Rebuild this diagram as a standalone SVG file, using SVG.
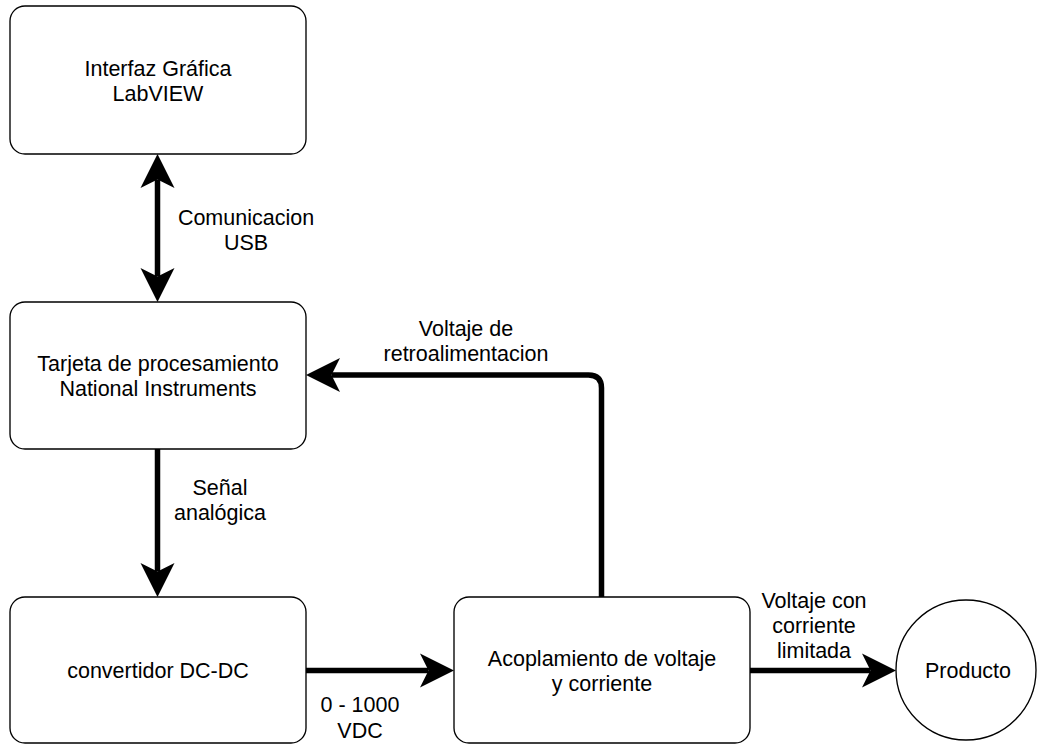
<svg xmlns="http://www.w3.org/2000/svg" width="1037" height="744" viewBox="0 0 1037 744">
<style>
.node{fill:#fff;stroke:#000;stroke-width:1.35}
.t{font-family:"Liberation Sans",Arial,sans-serif;font-size:21.5px;fill:#000;text-anchor:middle}
.c{fill:none;stroke:#000;stroke-width:5.5}
</style>
<defs>
<marker id="ah" markerUnits="userSpaceOnUse" viewBox="-9 -18 36 36" markerWidth="36" markerHeight="36" refX="0" refY="0" orient="auto-start-reverse">
<path d="M-8.5,-17 L25.5,0 L-8.5,17 L0,0 Z" fill="#000"/>
</marker>
</defs>
<rect width="1037" height="744" fill="#fff"/>
<g id="connectors">
<path class="c" d="M157.5,179.5 L157.5,276.5" marker-start="url(#ah)" marker-end="url(#ah)"/>
<path class="c" d="M157.5,449 L157.5,571.5" marker-end="url(#ah)"/>
<path class="c" d="M306,670.5 L428.5,670.5" marker-end="url(#ah)"/>
<path class="c" d="M750,670.5 L870.5,670.5" marker-end="url(#ah)"/>
<path class="c" d="M601.5,597 L601.5,388 Q601.5,375 588.5,375 L331.5,375" marker-end="url(#ah)"/>
<text class="t"><tspan x="246" y="225">Comunicacion</tspan><tspan x="246" y="250">USB</tspan></text>
<text class="t"><tspan x="220" y="495">Señal</tspan><tspan x="220" y="520">analógica</tspan></text>
<text class="t"><tspan x="466" y="336">Voltaje de</tspan><tspan x="466" y="361">retroalimentacion</tspan></text>
<text class="t"><tspan x="360" y="712">0 - 1000</tspan><tspan x="360" y="738">VDC</tspan></text>
<text class="t"><tspan x="814" y="608">Voltaje con</tspan><tspan x="814" y="633">corriente</tspan><tspan x="814" y="658">limitada</tspan></text>
</g>
<g id="n1">
<rect class="node" x="10" y="6" width="296" height="148" rx="15"/>
<text class="t"><tspan x="158" y="76">Interfaz Gráfica</tspan><tspan x="158" y="101">LabVIEW</tspan></text>
</g>
<g id="n2">
<rect class="node" x="10" y="302" width="296" height="147" rx="15"/>
<text class="t"><tspan x="158" y="371">Tarjeta de procesamiento</tspan><tspan x="158" y="396">National Instruments</tspan></text>
</g>
<g id="n3">
<rect class="node" x="10" y="597" width="296" height="146" rx="15"/>
<text class="t" x="158" y="678">convertidor DC-DC</text>
</g>
<g id="n4">
<rect class="node" x="454" y="597" width="296" height="146" rx="15"/>
<text class="t"><tspan x="602" y="666">Acoplamiento de voltaje</tspan><tspan x="602" y="691">y corriente</tspan></text>
</g>
<g id="n5">
<circle class="node" cx="966" cy="670" r="70"/>
<text class="t" x="968" y="678">Producto</text>
</g>
</svg>
